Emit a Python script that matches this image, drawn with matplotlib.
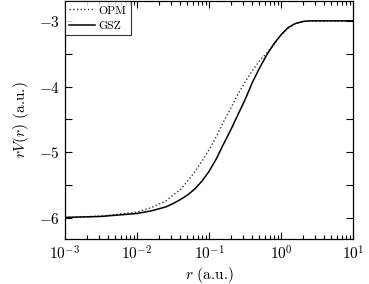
import numpy as np
import matplotlib
matplotlib.use("Agg")
import matplotlib.pyplot as plt
from matplotlib.ticker import MultipleLocator, LogLocator, FuncFormatter

plt.rcParams['font.family'] = ['cmr10', 'DejaVu Serif']
plt.rcParams['mathtext.fontset'] = 'cm'
plt.rcParams['axes.formatter.use_mathtext'] = True
plt.rcParams['axes.unicode_minus'] = True

# radius (a.u.), read at roughly even steps in log10(r)
r = [0.001, 0.00316, 0.01, 0.0158, 0.0251, 0.0316, 0.0398, 0.0501, 0.0631, 0.0794,
     0.1, 0.126, 0.158, 0.2, 0.251, 0.316, 0.398, 0.501, 0.631, 0.794,
     1.0, 1.26, 1.58, 2.0, 2.51, 5.0, 10.0]
opm = [-5.99, -5.97, -5.91, -5.84, -5.74, -5.65, -5.57, -5.44, -5.30, -5.14,
       -4.96, -4.76, -4.54, -4.33, -4.12, -3.93, -3.76, -3.61, -3.49, -3.36,
       -3.22, -3.11, -3.04, -3.01, -3.0, -3.0, -3.0]
gsz = [-5.99, -5.975, -5.93, -5.89, -5.83, -5.78, -5.72, -5.65, -5.56, -5.44,
       -5.29, -5.10, -4.88, -4.66, -4.43, -4.20, -3.94, -3.72, -3.52, -3.35,
       -3.21, -3.10, -3.04, -3.01, -3.0, -3.0, -3.0]

fig = plt.figure(figsize=(3.69, 2.84), dpi=100)
ax = fig.add_axes([0.176, 0.158, 0.781, 0.838])

ax.plot(r, opm, linestyle=':', color='#333333', lw=1.0, label='OPM')
ax.plot(r, gsz, linestyle='-', color='black', lw=1.1, label='GSZ')

ax.set_xscale('log')
ax.set_xlim(1e-3, 10)
ax.set_ylim(-6.32, -2.7)
ax.yaxis.set_major_locator(MultipleLocator(1))
ax.yaxis.set_minor_locator(MultipleLocator(0.5))
ax.yaxis.set_major_formatter(FuncFormatter(lambda v, p: r'$%d$' % round(v)))
ax.xaxis.set_major_locator(LogLocator(base=10, numticks=10))
ax.xaxis.set_minor_locator(LogLocator(base=10, subs=np.arange(2, 10), numticks=10))

ax.tick_params(which='both', direction='in', top=True, right=True, labelsize=11, width=0.8)
ax.tick_params(which='major', length=5)
ax.tick_params(axis='x', which='minor', length=3)
ax.tick_params(axis='y', which='minor', length=5)
for s in ax.spines.values():
    s.set_linewidth(0.9)

ax.set_xlabel(r'$r$ (a.u.)', fontsize=11, labelpad=2)
ax.set_ylabel(r'$rV(r)$ (a.u.)', fontsize=11, labelpad=6)

leg = ax.legend(loc='upper left', fontsize=8.5, frameon=True, fancybox=False,
                edgecolor='black', borderaxespad=0, handlelength=2.2,
                handletextpad=0.3, borderpad=0.35, labelspacing=0.45)
leg.get_frame().set_linewidth(0.8)

fig.savefig('out.png', dpi=100)
